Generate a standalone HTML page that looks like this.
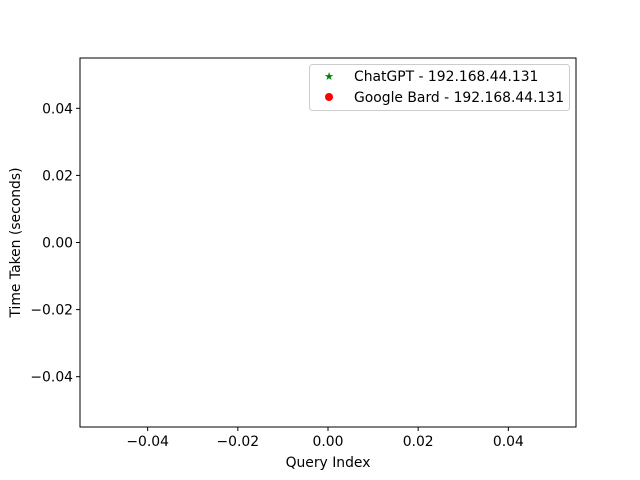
<!DOCTYPE html>
<html><head><meta charset="utf-8"><style>
body{margin:0;background:#fff;}
svg{display:block;font-family:"DejaVu Sans","Liberation Sans",sans-serif;}
</style></head><body>
<svg id="chart" width="640" height="480">
<rect x="0" y="0" width="640" height="480" fill="#fff"/>
<g id="ticks"></g>
<g id="marks"></g>
<rect x="80" y="58" width="496" height="369" fill="none" stroke="#000" stroke-width="1"/>
<text x="328" y="467" text-anchor="middle" font-size="13.9">Query Index</text>
<text x="20" y="242.5" text-anchor="middle" font-size="13.9" transform="rotate(-90 20 242.5)">Time Taken (seconds)</text>
<g>
<rect x="309.5" y="64.5" width="260" height="46" rx="3" fill="#fff" fill-opacity="0.8" stroke="#ccc"/>
<g>
<text x="329" y="80" text-anchor="middle" font-size="11" fill="green">★</text>
<text x="354" y="81" font-size="13.9">ChatGPT - 192.168.44.131</text>
</g>
<g>
<circle cx="329" cy="97" r="4" fill="red"/>
<text x="354" y="102" font-size="13.9">Google Bard - 192.168.44.131</text>
</g>
</g>
</svg>
<script>
const xTicks=[-0.04,-0.02,0.00,0.02,0.04];
const xTickLabels=["−0.04","−0.02","0.00","0.02","0.04"];
const yTicks=[0.04,0.02,0.00,-0.02,-0.04];
const yTickLabels=["0.04","0.02","0.00","−0.02","−0.04"];
const chatgptX=[];
const chatgptY=[];
const bardX=[];
const bardY=[];
const xMin=-0.055,xMax=0.055,yMin=-0.055,yMax=0.055;
const L=80,R=576,T=58,B=427;
function sx(v){return L+(v-xMin)/(xMax-xMin)*(R-L);}
function sy(v){return B-(v-yMin)/(yMax-yMin)*(B-T);}
const NS="http://www.w3.org/2000/svg";
const tg=document.getElementById('ticks');
const mg=document.getElementById('marks');
function mk(tag,attrs,parent){const e=document.createElementNS(NS,tag);for(const k in attrs)e.setAttribute(k,attrs[k]);parent.appendChild(e);return e;}
xTicks.forEach((v,i)=>{
 const x=sx(v);
 const l=mk('line',{x1:x,x2:x,y1:B,y2:B+4,stroke:'#000'},tg);
 
 
 const t=mk('text',{x:x,y:B+19,'text-anchor':'middle','font-size':'13.9'},tg);
 t.textContent=xTickLabels[i];
 
 
});
yTicks.forEach((v,i)=>{
 const y=sy(v);
 const l=mk('line',{x1:L-4,x2:L,y1:y,y2:y,stroke:'#000'},tg);
 
 
 const t=mk('text',{x:L-7,y:y+5,'text-anchor':'end','font-size':'13.9'},tg);
 t.textContent=yTickLabels[i];
 
 
});
chatgptX.forEach((v,i)=>{
 const t=mk('text',{x:sx(v),y:sy(chatgptY[i])+4,'text-anchor':'middle','font-size':'11',fill:'green'},mg);
 t.textContent='★';
 
 
});
bardX.forEach((v,i)=>{
 const c=mk('circle',{cx:sx(v),cy:sy(bardY[i]),r:4,fill:'red'},mg);
 
 
});
</script>
</body></html>
